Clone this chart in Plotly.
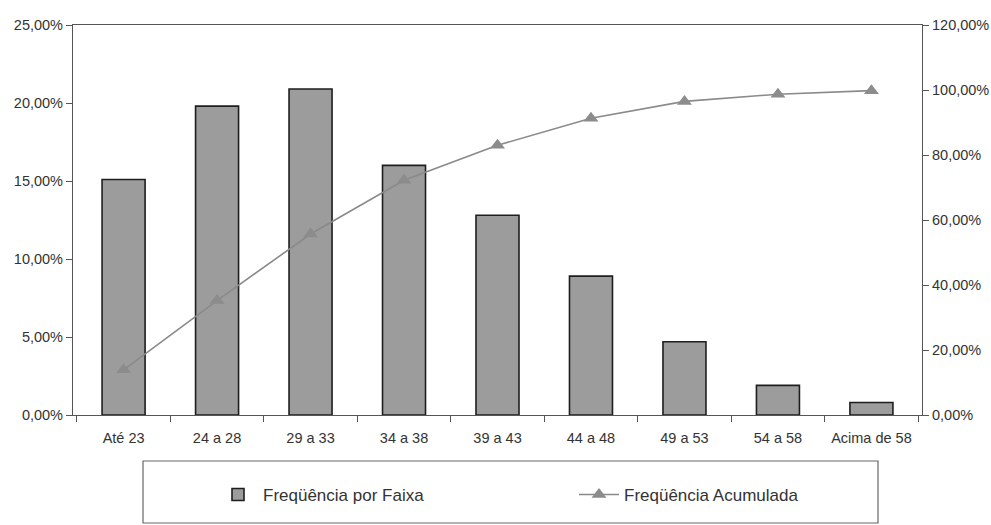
import plotly.graph_objects as go

categories = ["Até 23", "24 a 28", "29 a 33", "34 a 38", "39 a 43", "44 a 48", "49 a 53", "54 a 58", "Acima de 58"]
freq_por_faixa = [0.151, 0.198, 0.209, 0.160, 0.128, 0.089, 0.047, 0.019, 0.008]
freq_acumulada = [0.139, 0.352, 0.557, 0.722, 0.830, 0.913, 0.965, 0.987, 0.998]
left_ticks = [0, 0.05, 0.10, 0.15, 0.20, 0.25]
right_ticks = [0, 0.2, 0.4, 0.6, 0.8, 1.0, 1.2]

FONT = "Liberation Sans, Arial, sans-serif"

fig = go.Figure()
fig.add_trace(go.Bar(
    x=categories, y=freq_por_faixa, name="Freqüência por Faixa",
    marker=dict(color="#9c9c9c", line=dict(color="#1e1e1e", width=1.6)),
    yaxis="y",
))
fig.add_trace(go.Scatter(
    x=categories, y=freq_acumulada, name="Freqüência Acumulada",
    mode="lines+markers",
    line=dict(color="#8a8a8a", width=1.6),
    marker=dict(symbol="triangle-up", size=13, color="#8c8c8c"),
    yaxis="y2",
))

L, R, T, B = 73, 922, 25, 415
W, H = 991, 525

def px_x(p):
    return (p - L) / (R - L)

def px_y(p):
    return (B - p) / (B - T)

tickfont = dict(family=FONT, size=14.5, color="#333333")

fig.update_layout(
    width=W, height=H,
    margin=dict(l=L, r=W - R, t=T, b=H - B),
    paper_bgcolor="white", plot_bgcolor="white",
    font=dict(family=FONT, size=14, color="#333333"),
    separators=",.",
    bargap=0.54,
    showlegend=True,
    legend=dict(
        orientation="h", xref="container", yref="container",
        x=213 / W, xanchor="left", y=1 - 495 / H, yanchor="middle",
        font=dict(family=FONT, size=17, color="#333333"),
        bgcolor="rgba(0,0,0,0)", borderwidth=0,
        entrywidth=306, itemwidth=40,
    ),
    xaxis=dict(
        type="category", showgrid=False, showline=True, linecolor="#555555", linewidth=1.2,
        mirror=True, ticks="outside", ticklen=6, tickcolor="#555555", tickson="boundaries",
        tickfont=tickfont, automargin=False, ticklabelstandoff=9,
    ),
    yaxis=dict(
        range=[0, 0.25], tickvals=left_ticks, tickformat=".2%", showgrid=False,
        showline=True, linecolor="#555555", linewidth=1.2, ticks="outside", ticklen=6,
        tickcolor="#555555", tickfont=tickfont, zeroline=False, automargin=False,
    ),
    yaxis2=dict(
        range=[0, 1.2], tickvals=right_ticks, tickformat=".2%", overlaying="y", side="right",
        showgrid=False, showline=True, linecolor="#555555", linewidth=1.2, ticks="outside",
        ticklen=6, tickcolor="#555555", tickfont=tickfont, zeroline=False, automargin=False,
    ),
    shapes=[dict(
        type="rect", xref="paper", yref="paper",
        x0=px_x(143), x1=px_x(878), y0=px_y(523), y1=px_y(461),
        line=dict(color="#666666", width=1.2), fillcolor="rgba(0,0,0,0)", layer="below",
    )],
)

fig.write_html(
    "out.html",
    config={"displayModeBar": False},
    post_script="document.body.style.margin='0';document.body.style.padding='0';",
)
